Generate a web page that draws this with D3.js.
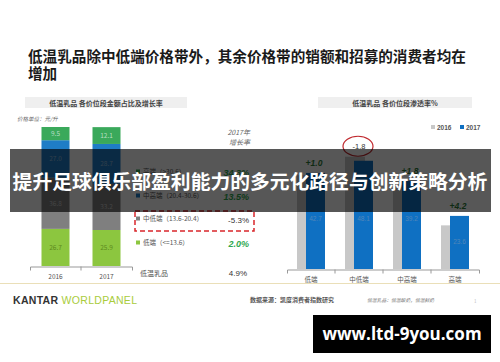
<!DOCTYPE html>
<html>
<head>
<meta charset="utf-8">
<script src="https://cdn.jsdelivr.net/npm/d3@7"></script>
<style>
  body { margin: 0; background: #fff; }
  svg { display: block; font-family: "Noto Sans CJK SC", "Noto Sans", sans-serif; }
</style>
</head>
<body>
<svg id="chart" width="500" height="362"></svg>
<script>
// left chart: share of sales by price tier
const years = ["2016", "2017"];
const tiers = ["低端", "中低端", "中高端", "高端"];
const share2016 = [26.7, 36.8, 27.0, 9.5];
const share2017 = [25.9, 33.2, 28.7, 12.1];
const legendLabels = ["高端（>30.6）", "中高端（20.4-30.6）", "中低端（13.6-20.4）", "低端（<=13.6）"];
const growth = ["34.3%", "13.5%", "-5.3%", "2.0%"];
const totalGrowth = "4.9%";

// right chart: penetration by price tier
const pen2016 = [41.7, 49.9, 37.4, 19.4];
const pen2017 = [42.7, 48.1, 39.2, 23.6];
const penChange = ["+1.0", "-1.8", "+1.8", "+4.2"];

const tierColor = {"低端": "#8cc63f", "中低端": "#7f7f7f", "中高端": "#1f7dc6", "高端": "#3aa95b"};
const tierText = {"低端": "#5d8a1e", "中低端": "#c4c4c4", "中高端": "#8cb6dc", "高端": "#b8dfc3"};

const svg = d3.select("#chart");

// title
svg.append("text").attr("x", 28).attr("y", 62)
    .attr("font-size", 14.6).attr("font-weight", "bold").attr("fill", "#1a1a1a")
    .text("低温乳品除中低端价格带外，其余价格带的销额和招募的消费者均在");
svg.append("text").attr("x", 28).attr("y", 79)
    .attr("font-size", 14.6).attr("font-weight", "bold").attr("fill", "#1a1a1a")
    .text("增加");

// sub-title boxes
svg.append("rect").attr("x", 25).attr("y", 97).attr("width", 162).attr("height", 11).attr("fill", "#efefef");
svg.append("text").attr("x", 106).attr("y", 105.5).attr("text-anchor", "middle")
    .attr("font-size", 7).attr("font-weight", "bold").attr("fill", "#444")
    .text("低温乳品  各价位段金额占比及增长率");
svg.append("rect").attr("x", 318).attr("y", 97).attr("width", 154).attr("height", 11).attr("fill", "#efefef");
svg.append("text").attr("x", 395).attr("y", 105.5).attr("text-anchor", "middle")
    .attr("font-size", 7).attr("font-weight", "bold").attr("fill", "#444")
    .text("低温乳品  各价位段渗透率%");

svg.append("text").attr("x", 17).attr("y", 121)
    .attr("font-size", 5.5).attr("font-style", "italic").attr("fill", "#666")
    .text("价格单位：元/升");

// ---- left stacked bars
const x = d3.scaleBand().domain(years).range([30, 132]);
const y = d3.scaleLinear().domain([0, 100]).range([266, 127]);
const barW = 28;

const rows = years.map((yr, i) => {
    const vals = i === 0 ? share2016 : share2017;
    const r = {year: yr};
    tiers.forEach((t, j) => r[t] = vals[j]);
    return r;
});
const stack = d3.stack().keys(tiers)(rows);

const gl = svg.append("g");
stack.forEach(layer => {
    layer.forEach(d => {
        const bx = x(d.data.year) + (x.bandwidth() - barW) / 2;
        gl.append("rect")
            .attr("x", bx).attr("width", barW)
            .attr("y", y(d[1])).attr("height", y(d[0]) - y(d[1]))
            .attr("fill", tierColor[layer.key]);
        gl.append("text")
            .attr("x", bx + barW / 2).attr("y", (y(d[0]) + y(d[1])) / 2 + 2.5)
            .attr("text-anchor", "middle").attr("font-size", 6.5)
            .attr("fill", tierText[layer.key])
            .text(d.data[layer.key].toFixed(1));
    });
});

const xAxis = gl.append("g").attr("transform", "translate(0,266.5)")
    .call(d3.axisBottom(x).tickSize(0).tickSizeOuter(4).tickPadding(8));
xAxis.select(".domain").attr("stroke", "#999");
xAxis.selectAll("text").attr("font-size", 6.5).attr("fill", "#555")
    .attr("font-family", "'Noto Sans CJK SC', sans-serif");
xAxis.append("line").attr("x1", x("2017")).attr("x2", x("2017")).attr("y1", 0).attr("y2", 4).attr("stroke", "#999");

// legend + growth rates
svg.append("text").attr("x", 250).attr("y", 135).attr("text-anchor", "end")
    .attr("font-size", 7).attr("font-style", "italic").attr("fill", "#666").text("2017年");
svg.append("text").attr("x", 250).attr("y", 145).attr("text-anchor", "end")
    .attr("font-size", 7).attr("font-style", "italic").attr("fill", "#666").text("增长率");

const legendTiers = tiers.slice().reverse();
const legY = [172, 196, 219, 243];
legendTiers.forEach((t, i) => {
    svg.append("rect").attr("x", 136).attr("y", legY[i] - 2.5).attr("width", 4).attr("height", 4)
        .attr("fill", tierColor[t]);
    svg.append("text").attr("x", 143).attr("y", legY[i] + 2.2)
        .attr("font-size", 6.5).attr("fill", "#555").text(legendLabels[i]);
    const neg = growth[i].startsWith("-");
    svg.append("text").attr("x", 249).attr("y", legY[i] + 3.5).attr("text-anchor", "end")
        .attr("font-size", neg ? 8 : 9)
        .attr("font-weight", neg ? "normal" : "bold")
        .attr("font-style", neg ? "normal" : "italic")
        .attr("fill", neg ? "#333" : "#2fa84f")
        .attr("font-family", "'Liberation Sans', sans-serif")
        .text(growth[i]);
});
svg.append("rect").attr("x", 135).attr("y", 211).attr("width", 119).attr("height", 20)
    .attr("fill", "none").attr("stroke", "#d9262b").attr("stroke-width", 1.5)
    .attr("stroke-dasharray", "5,3");
svg.append("text").attr("x", 140).attr("y", 276)
    .attr("font-size", 7).attr("fill", "#555").text("低温乳品");
svg.append("text").attr("x", 247).attr("y", 276).attr("text-anchor", "end")
    .attr("font-size", 8).attr("fill", "#333")
    .attr("font-family", "'Liberation Sans', sans-serif").text(totalGrowth);

// ---- right grouped bars
const xr = d3.scaleBand().domain(tiers).range([287, 479]);
const yr = d3.scaleLinear().domain([0, 60]).range([269, 134]);
const gr = svg.append("g");

tiers.forEach((t, i) => {
    const cx = xr(t) + xr.bandwidth() / 2;
    gr.append("rect").attr("x", cx - 14).attr("width", 20)
        .attr("y", yr(pen2016[i])).attr("height", yr(0) - yr(pen2016[i]))
        .attr("fill", "#c8c8c8");
    gr.append("rect").attr("x", cx - 5).attr("width", 19)
        .attr("y", yr(pen2017[i])).attr("height", yr(0) - yr(pen2017[i]))
        .attr("fill", "#0f70c2");
    gr.append("text").attr("x", cx + 4.5).attr("y", i === 3 ? 244 : 221)
        .attr("text-anchor", "middle").attr("font-size", 6.5).attr("fill", "#4f86ba")
        .attr("font-family", "'Liberation Sans', sans-serif")
        .text(pen2017[i].toFixed(1));
    const neg = penChange[i].startsWith("-");
    gr.append("text").attr("x", cx + (neg ? 0 : 3)).attr("y", yr(Math.max(pen2016[i], pen2017[i])) - (neg ? 8 : 7))
        .attr("text-anchor", "middle")
        .attr("font-size", neg ? 7.5 : 8.5)
        .attr("font-weight", neg ? "normal" : "bold")
        .attr("font-style", neg ? "normal" : "italic")
        .attr("fill", neg ? "#333" : "#2e7d3a")
        .attr("font-family", "'Liberation Sans', sans-serif")
        .text(penChange[i]);
    if (neg) {
        gr.append("ellipse").attr("cx", cx - 1).attr("cy", yr(pen2016[i]) - 10.5)
            .attr("rx", 15).attr("ry", 10)
            .attr("fill", "none").attr("stroke", "#c0282d").attr("stroke-width", 1.2);
    }
});

const xrAxis = gr.append("g").attr("transform", "translate(0,269.5)")
    .call(d3.axisBottom(xr).tickSize(0).tickSizeOuter(4).tickPadding(8));
xrAxis.select(".domain").attr("stroke", "#999");
xrAxis.selectAll("text").attr("font-size", 6.5).attr("fill", "#555")
    .attr("font-family", "'Noto Sans CJK SC', sans-serif");
tiers.slice(1).forEach(t => {
    xrAxis.append("line").attr("x1", xr(t)).attr("x2", xr(t)).attr("y1", 0).attr("y2", 4).attr("stroke", "#999");
});

// right legend
[["2016", "#c8c8c8", 431], ["2017", "#0f70c2", 460]].forEach(([lab, col, lx]) => {
    svg.append("rect").attr("x", lx).attr("y", 125).attr("width", 4).attr("height", 4).attr("fill", col);
    svg.append("text").attr("x", lx + 6).attr("y", 129.5)
        .attr("font-size", 6.5).attr("font-weight", "bold").attr("fill", "#555")
        .attr("font-family", "'Liberation Sans', sans-serif").text(lab);
});

// footer
svg.append("line").attr("x1", 0).attr("x2", 500).attr("y1", 283.5).attr("y2", 283.5)
    .attr("stroke", "#eadfb8").attr("stroke-width", 1);
const brand = svg.append("text").attr("x", 13).attr("y", 304)
    .attr("font-size", 10.5).attr("font-weight", "bold")
    .attr("font-family", "'Liberation Sans', sans-serif").attr("letter-spacing", 0.3);
brand.append("tspan").attr("fill", "#333").text("KANTAR ");
brand.append("tspan").attr("fill", "#a9cc3c").attr("font-weight", "normal").text("WORLDPANEL");
svg.append("text").attr("x", 250).attr("y", 302)
    .attr("font-size", 6).attr("font-weight", "bold").attr("fill", "#555")
    .text("数据来源：凯度消费者指数研究");
svg.append("text").attr("x", 367).attr("y", 302)
    .attr("font-size", 4.8).attr("font-style", "italic").attr("fill", "#777")
    .text("低温乳品：低温酸奶，低温鲜奶");
svg.append("text").attr("x", 474).attr("y", 303)
    .attr("font-size", 4.5).attr("fill", "#bbb").text("1");

// overlay banner
svg.append("rect").attr("x", 10).attr("y", 149).attr("width", 481).attr("height", 63)
    .attr("fill", "#000").attr("opacity", 0.66);
svg.append("text").attr("x", 250).attr("y", 189).attr("text-anchor", "middle")
    .attr("font-size", 19.8).attr("font-weight", "bold").attr("fill", "#fff")
    .text("提升足球俱乐部盈利能力的多元化路径与创新策略分析");

// watermark
svg.append("rect").attr("x", 313).attr("y", 315).attr("width", 178).attr("height", 38).attr("fill", "#000");
svg.append("text").attr("x", 402).attr("y", 340).attr("text-anchor", "middle")
    .attr("font-size", 17).attr("font-weight", "bold").attr("fill", "#fff")
    .attr("font-family", "'Open Sans', 'DejaVu Sans', sans-serif")
    .text("www.ltd-9you.com");
</script>
</body>
</html>
